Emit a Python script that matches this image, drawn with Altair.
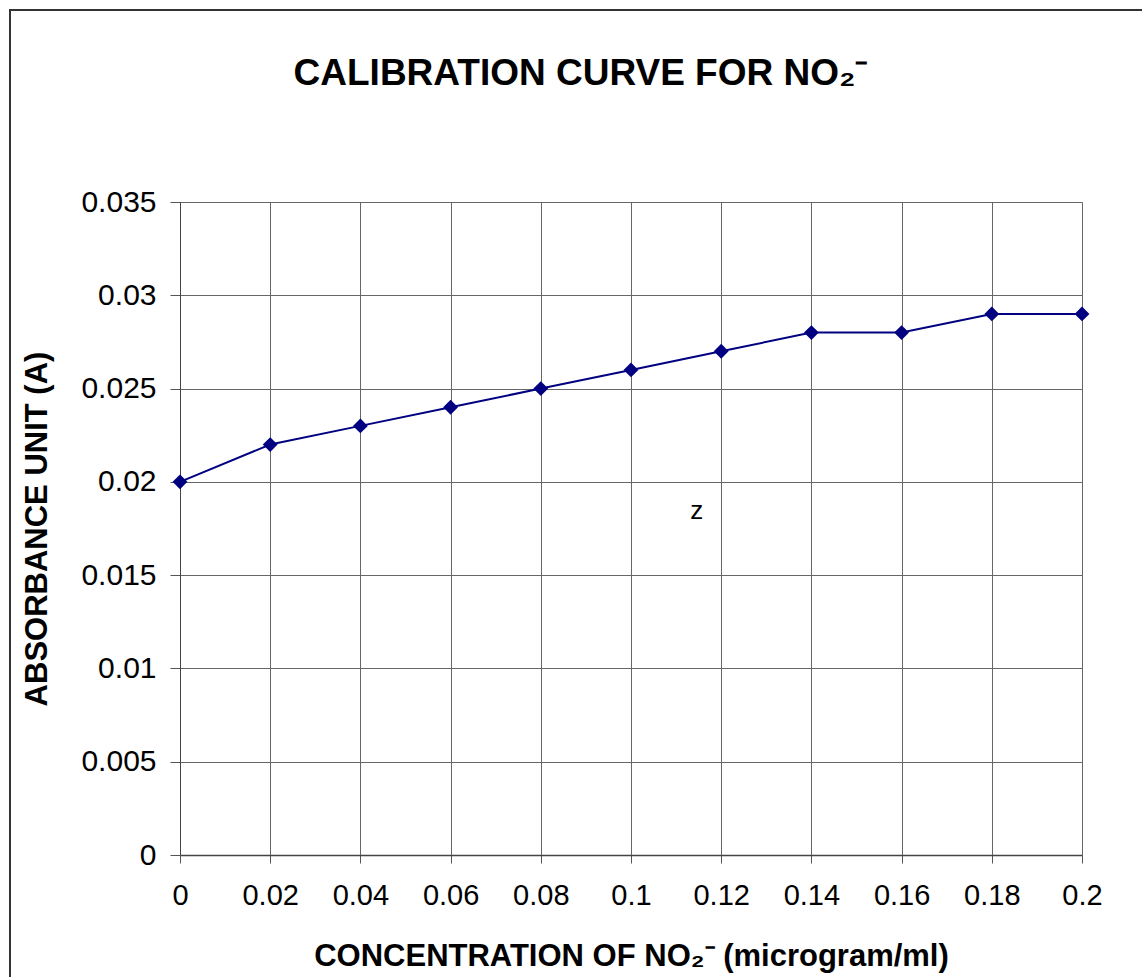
import altair as alt
import pandas as pd

# Data
concentration = [0.0, 0.02, 0.04, 0.06, 0.08, 0.10, 0.12, 0.14, 0.16, 0.18, 0.20]
absorbance = [0.020, 0.022, 0.023, 0.024, 0.025, 0.026, 0.027, 0.028, 0.028, 0.029, 0.029]

x_ticks = [0, 0.02, 0.04, 0.06, 0.08, 0.1, 0.12, 0.14, 0.16, 0.18, 0.2]
y_ticks = [0, 0.005, 0.01, 0.015, 0.02, 0.025, 0.03, 0.035]

note_text = ["z"]
note_x = [0.1146]
note_y = [0.0180]

df = pd.DataFrame({"conc": concentration, "abs": absorbance})
notes = pd.DataFrame({"x": note_x, "y": note_y, "t": note_text})

FONT = "Liberation Sans"
W, H = 902, 653

x_scale = alt.Scale(domain=[0, 0.2], nice=False, zero=False)
y_scale = alt.Scale(domain=[0, 0.035], nice=False, zero=False)

x_axis = alt.Axis(
    values=x_ticks, format=".2~f", title="CONCENTRATION OF NO\u2082\u207b (microgram/ml)",
    labelFont=FONT, labelFontSize=29, labelColor="black", labelPadding=18,
    tickSize=8, tickColor="#555555", domainColor="#444444", domainWidth=1.5,
    grid=True, gridColor="#666666", gridWidth=1,
    titleFont=FONT, titleFontSize=31, titleFontWeight="bold", titleColor="black",
    titleY=110, titleBaseline="alphabetic", labelFlush=False, labelOverlap=False,
)
y_axis = alt.Axis(
    values=y_ticks, format=".3~f", title="ABSORBANCE UNIT (A)",
    labelFont=FONT, labelFontSize=30, labelColor="black", labelPadding=14,
    tickSize=10, tickColor="#555555", domainColor="#444444", domainWidth=1,
    grid=True, gridColor="#666666", gridWidth=1,
    titleFont=FONT, titleFontSize=31, titleFontWeight="bold", titleColor="black",
    titleX=-143, titleY=H / 2, titleAngle=270, titleAlign="center", titleBaseline="middle",
    labelFlush=False, labelOverlap=False,
)

border = alt.Chart(pd.DataFrame({"a": [0]})).mark_rect(
    fill=None, stroke="#333333", strokeWidth=2, clip=False
).encode(
    x=alt.value(-170), x2=alt.value(W + 200),
    y=alt.value(-192), y2=alt.value(H + 200),
)

line = alt.Chart(df).mark_line(color="#000080", strokeWidth=2).encode(
    x=alt.X("conc:Q", scale=x_scale, axis=x_axis),
    y=alt.Y("abs:Q", scale=y_scale, axis=y_axis),
)
points = alt.Chart(df).mark_point(
    shape="diamond", filled=True, color="#000080", size=220, opacity=1
).encode(
    x=alt.X("conc:Q", scale=x_scale),
    y=alt.Y("abs:Q", scale=y_scale),
)
note = alt.Chart(notes).mark_text(
    font=FONT, fontSize=26, color="black", align="center", baseline="alphabetic"
).encode(
    x=alt.X("x:Q", scale=x_scale),
    y=alt.Y("y:Q", scale=y_scale),
    text="t:N",
)

chart = alt.layer(border, line, points, note).properties(
    width=W, height=H,
    title=alt.TitleParams(
        "CALIBRATION CURVE FOR NO\u2082\u207b",
        font=FONT, fontSize=37, fontWeight="bold", color="black",
        anchor="middle", frame="group", dx=-50, offset=-121, baseline="bottom",
    ),
    autosize=alt.AutoSizeParams(type="none"),
    padding={"left": 180, "top": 202, "right": 60, "bottom": 122},
).configure_view(stroke=None).configure(background="white")

chart.save("out.html", embed_options={"renderer": "svg", "actions": False})
